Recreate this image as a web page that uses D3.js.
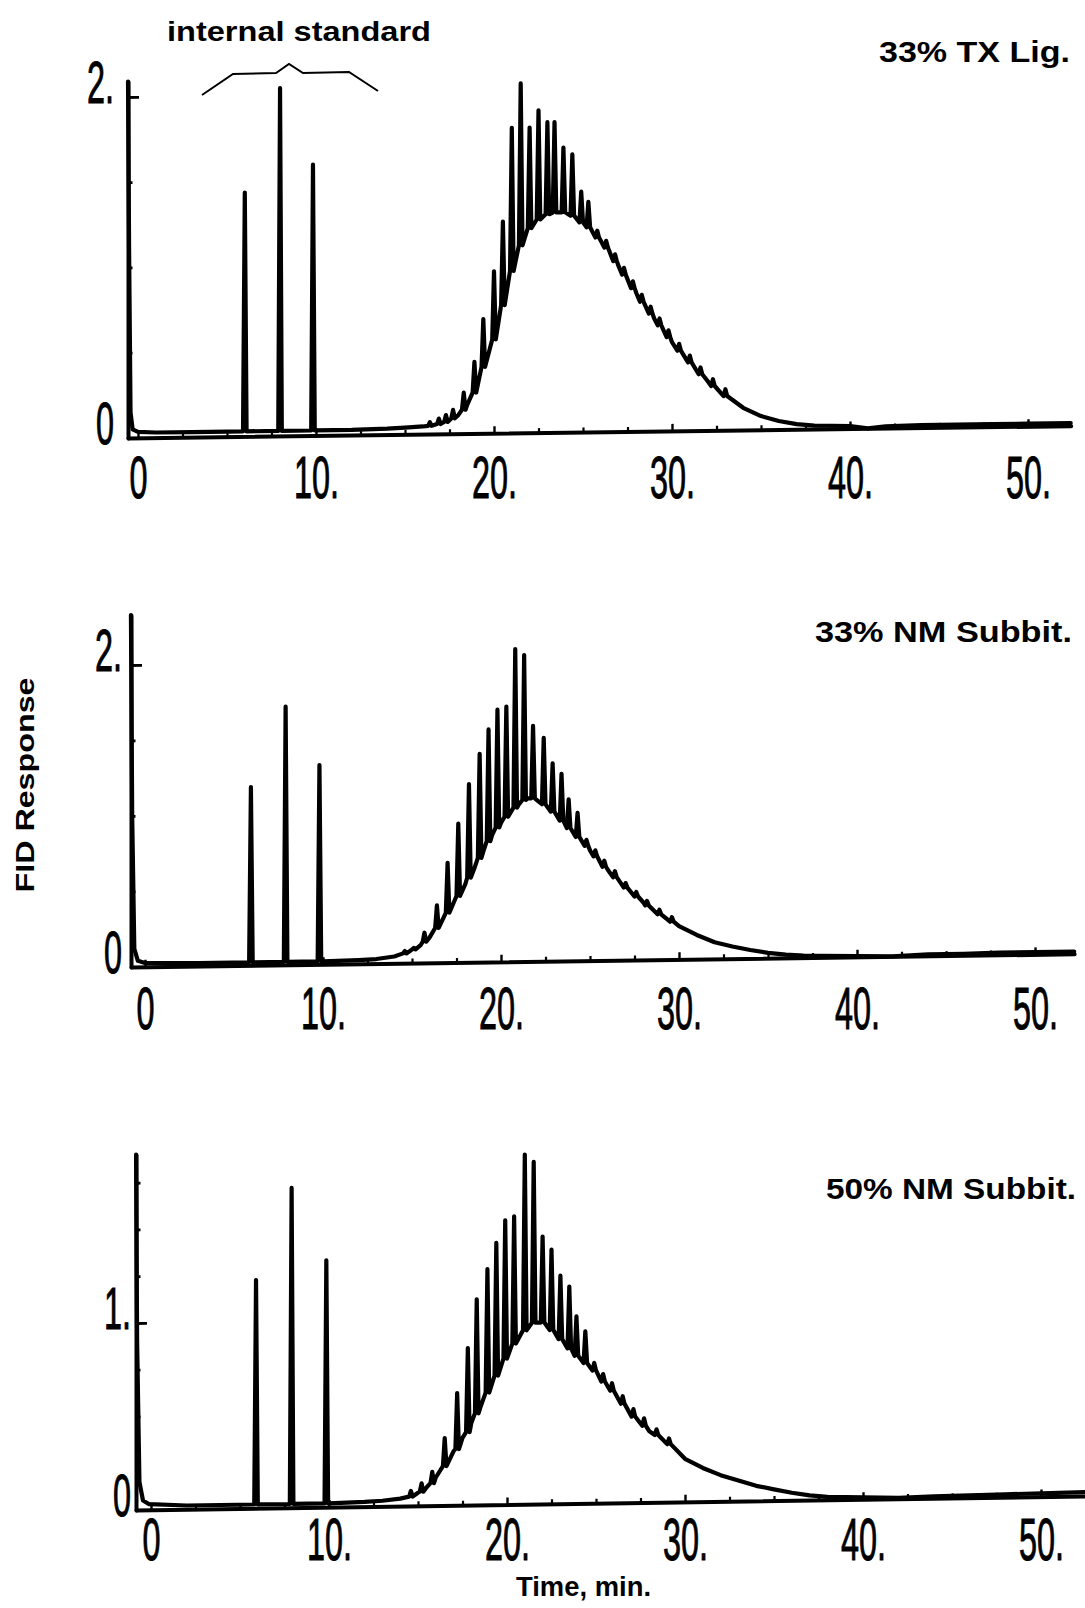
<!DOCTYPE html>
<html>
<head>
<meta charset="utf-8">
<script src="https://cdn.jsdelivr.net/npm/d3@7"></script>
<style>
  body { margin: 0; background: #fff; }
  svg { display: block; }
</style>
</head>
<body>
<div id="chart"></div>
<script>
// ---- data ----
const titles = ["33% TX Lig.", "33% NM Subbit.", "50% NM Subbit."]

// time axis (min)
const xTickValues = [0, 10, 20, 30, 40, 50]
const xTickLabels = ["0", "10.", "20.", "30.", "40.", "50."]
const xMinorTicks = [2.5, 5, 7.5, 12.5, 15, 17.5, 22.5, 25, 27.5, 32.5, 35, 37.5, 42.5, 45, 47.5]

// FID response ticks
const yTicks1 = [0, 2], yLabels1 = ["0", "2."], yMinor1 = [0.5, 1, 1.5]
const yTicks2 = [0, 2], yLabels2 = ["0", "2."], yMinor2 = [0.5, 1, 1.5]
const yTicks3 = [0, 1], yLabels3 = ["0", "1."], yMinor3 = [0.25, 0.5, 0.75, 1.25, 1.5, 1.75]

// panel 1: 33% TX Lig. -- smooth trace (solvent, baseline, hump)
const env1T = [-0.56, -0.5, -0.42, -0.3, 0, 1, 3, 5, 8, 10, 12, 14, 15, 16, 16.5, 17, 17.5, 18, 18.5, 19, 19.5, 20, 20.5, 21, 21.5, 22, 22.5, 23, 23.5, 24, 24.5, 25, 25.5, 26, 27, 28, 29, 30, 31, 32, 33, 34, 35, 36, 37, 38, 40, 41, 42, 44, 46, 48, 50, 52.4]
const env1V = [2.09, 1.1, 0.15, 0.05, 0.035, 0.03, 0.03, 0.03, 0.03, 0.03, 0.03, 0.035, 0.04, 0.045, 0.05, 0.06, 0.08, 0.11, 0.17, 0.27, 0.4, 0.55, 0.72, 0.9, 1.06, 1.18, 1.25, 1.29, 1.3, 1.29, 1.27, 1.23, 1.18, 1.12, 0.97, 0.81, 0.66, 0.52, 0.4, 0.29, 0.2, 0.13, 0.08, 0.05, 0.03, 0.02, 0.015, 0.0, 0.01, 0.015, 0.015, 0.015, 0.015, 0.015]
// spikes: retention time, top, level at foot
const pk1T    = [6.0, 7.98, 9.83, 16.4, 16.9, 17.3, 17.7, 18.3, 18.9, 19.4, 20.0, 20.5, 21.0, 21.5, 22.0, 22.5, 23.0, 23.4, 23.9, 24.4, 24.9, 25.3, 25.8, 26.3, 26.8, 27.3, 27.8, 28.3, 28.8, 29.3, 29.8, 30.4, 31.0, 31.6, 32.3, 33.0]
const pk1Top  = [1.43, 2.04, 1.59, 0.07, 0.09, 0.11, 0.14, 0.24, 0.42, 0.67, 0.95, 1.24, 1.79, 2.05, 1.79, 1.89, 1.82, 1.82, 1.67, 1.63, 1.41, 1.35, 1.18, 1.12, 1.04, 0.96, 0.88, 0.8, 0.73, 0.66, 0.59, 0.51, 0.44, 0.37, 0.3, 0.24]
const pk1Base = [0.03, 0.03, 0.03, 0.048, 0.058, 0.07, 0.09, 0.14, 0.24, 0.39, 0.55, 0.75, 0.95, 1.1, 1.2, 1.25, 1.28, 1.29, 1.29, 1.27, 1.23, 1.2, 1.14, 1.08, 1.0, 0.92, 0.84, 0.76, 0.69, 0.62, 0.55, 0.47, 0.4, 0.33, 0.26, 0.2]

// panel 2: 33% NM Subbit.
const env2T = [-0.79, -0.72, -0.6, -0.4, 0, 3, 6, 10, 12, 13, 14, 14.5, 15, 15.5, 16, 16.5, 17, 17.5, 18, 18.5, 19, 19.5, 20, 20.5, 21, 21.5, 22, 22.5, 23, 23.5, 24, 24.5, 25, 26, 27, 28, 29, 30, 31, 32, 33, 34, 35, 36, 37, 38, 40, 42, 44, 46, 48, 50, 52.2]
const env2V = [2.33, 1.0, 0.12, 0.04, 0.025, 0.02, 0.02, 0.02, 0.025, 0.03, 0.045, 0.06, 0.08, 0.12, 0.17, 0.25, 0.33, 0.42, 0.52, 0.62, 0.73, 0.84, 0.92, 0.98, 1.04, 1.08, 1.07, 1.03, 0.98, 0.92, 0.86, 0.8, 0.73, 0.6, 0.48, 0.38, 0.29, 0.22, 0.16, 0.11, 0.08, 0.055, 0.035, 0.022, 0.014, 0.01, 0.005, 0.0, 0.01, 0.01, 0.015, 0.015, 0.015]
const pk2T    = [5.95, 7.9, 9.8, 14.6, 15.1, 15.7, 16.4, 17.0, 17.6, 18.2, 18.8, 19.3, 19.8, 20.3, 20.8, 21.3, 21.8, 22.4, 22.9, 23.4, 23.8, 24.3, 24.8, 25.3, 25.8, 26.4, 27.0, 27.6, 28.2, 28.9, 29.6]
const pk2Top  = [1.18, 1.71, 1.32, 0.08, 0.1, 0.2, 0.38, 0.66, 0.92, 1.18, 1.38, 1.54, 1.67, 1.69, 2.07, 2.03, 1.56, 1.48, 1.31, 1.24, 1.07, 0.98, 0.8, 0.73, 0.66, 0.59, 0.51, 0.45, 0.39, 0.33, 0.28]
const pk2Base = [0.02, 0.02, 0.02, 0.065, 0.09, 0.14, 0.23, 0.33, 0.44, 0.56, 0.69, 0.8, 0.89, 0.96, 1.02, 1.07, 1.08, 1.04, 0.99, 0.93, 0.88, 0.82, 0.76, 0.69, 0.62, 0.55, 0.48, 0.42, 0.36, 0.3, 0.25]

// panel 3: 50% NM Subbit.
const env3T = [-0.84, -0.78, -0.65, -0.45, -0.1, 2, 6, 10, 12, 13, 14, 14.5, 15, 15.5, 16, 16.5, 17, 17.5, 18, 18.5, 19, 19.5, 20, 20.5, 21, 21.5, 22, 22.5, 23, 23.5, 24, 24.5, 25, 26, 27, 28, 29, 30, 31, 32, 33, 34, 35, 36, 37, 38, 40, 42, 44, 48, 52, 53.5]
const env3V = [1.9, 0.9, 0.15, 0.05, 0.03, 0.02, 0.02, 0.02, 0.025, 0.03, 0.04, 0.05, 0.07, 0.1, 0.15, 0.21, 0.29, 0.36, 0.44, 0.52, 0.61, 0.7, 0.8, 0.87, 0.93, 0.97, 0.97, 0.93, 0.88, 0.83, 0.78, 0.74, 0.7, 0.59, 0.47, 0.38, 0.3, 0.23, 0.18, 0.14, 0.11, 0.08, 0.06, 0.04, 0.025, 0.015, 0.01, 0.005, 0.01, 0.015, 0.02, 0.02]
const pk3T    = [5.9, 7.9, 9.85, 14.6, 15.2, 15.8, 16.5, 17.2, 17.8, 18.3, 18.9, 19.4, 19.9, 20.4, 21.0, 21.5, 22.0, 22.5, 23.0, 23.5, 23.9, 24.4, 24.9, 25.4, 25.9, 26.5, 27.1, 27.7, 28.4, 29.1]
const pk3Top  = [1.22, 1.71, 1.32, 0.08, 0.12, 0.18, 0.36, 0.6, 0.84, 1.1, 1.26, 1.4, 1.52, 1.54, 1.87, 1.83, 1.43, 1.36, 1.22, 1.16, 1.0, 0.92, 0.75, 0.69, 0.64, 0.57, 0.5, 0.45, 0.39, 0.34]
const pk3Base = [0.02, 0.02, 0.02, 0.05, 0.075, 0.12, 0.21, 0.3, 0.39, 0.49, 0.6, 0.69, 0.78, 0.86, 0.93, 0.97, 0.97, 0.93, 0.88, 0.83, 0.79, 0.75, 0.71, 0.65, 0.6, 0.53, 0.46, 0.41, 0.36, 0.31]

// ---- layout (pixels) ----
const W = 1085, H = 1608
const pxPerMin = 17.8
const layout = [
  {left: 128, x0: 138, y0: 438, k: 170.5, vTop: 2.09, tEnd: 52.4, skew: -0.75, yPad: 14, xLabY: 60, titleR: 1070, titleY: 62, titleLen: 191},
  {left: 131, x0: 145, y0: 967, k: 151, vTop: 2.33, tEnd: 52.2, skew: -0.8, yPad: 9, xLabY: 62, titleR: 1072, titleY: 642, titleLen: 257},
  {left: 136, x0: 151, y0: 1510, k: 187, vTop: 1.9, tEnd: 53.5, skew: -0.85, yPad: 5, xLabY: 50, titleR: 1076, titleY: 1199, titleLen: 250}
]
const bracePts = [[202, 95], [233, 74], [276, 73], [289, 64], [303, 73], [349, 72], [378, 91]]
const tickFont = "'Liberation Sans', Arial, sans-serif"
const labelFont = "'Liberation Sans', Arial, Helvetica, sans-serif"
const squeeze = 0.54

const panels = [
  {envT: env1T, envV: env1V, pkT: pk1T, pkTop: pk1Top, pkBase: pk1Base, yTicks: yTicks1, yLabels: yLabels1, yMinor: yMinor1},
  {envT: env2T, envV: env2V, pkT: pk2T, pkTop: pk2Top, pkBase: pk2Base, yTicks: yTicks2, yLabels: yLabels2, yMinor: yMinor2},
  {envT: env3T, envV: env3V, pkT: pk3T, pkTop: pk3Top, pkBase: pk3Base, yTicks: yTicks3, yLabels: yLabels3, yMinor: yMinor3}
]

const svg = d3.select("#chart").append("svg")
  .attr("width", W)
  .attr("height", H)
  .style("background", "#fff")

// merge smooth trace and narrow spikes into one pen line
function tracePoints(p) {
  const hw = 0.1
  const pts = p.envT.map((t, i) => [t, p.envV[i]])
    .filter(d => !p.pkT.some(t => Math.abs(t - d[0]) < hw * 1.5))
  p.pkT.forEach((t, i) => {
    pts.push([t - hw, p.pkBase[i]], [t, p.pkTop[i]], [t + hw, p.pkBase[i]])
  })
  return pts.sort((a, b) => a[0] - b[0])
}

panels.forEach((p, i) => {
  const L = layout[i]
  const x = d3.scaleLinear().domain([0, 50]).range([L.x0, L.x0 + 50 * pxPerMin])
  const y = d3.scaleLinear().domain([0, 1]).range([L.y0, L.y0 - L.k])
  const xa = x.copy().domain([x.invert(L.left), L.tEnd]).range([L.left, x(L.tEnd)])
  const ya = y.copy().domain([0, L.vTop]).range([L.y0, y(L.vTop)])

  const g = svg.append("g")
  // the scanned page is slightly tilted: baseline rises to the right
  const tilt = g.append("g")
    .attr("transform", `translate(${L.left},${L.y0}) skewY(${L.skew}) translate(${-L.left},${-L.y0})`)

  // x axis line + small upward ticks
  const xMajor = tilt.append("g")
    .attr("transform", `translate(0,${L.y0})`)
    .call(d3.axisBottom(xa).tickValues(xTickValues).tickSizeInner(-7).tickSizeOuter(0).tickFormat(""))
  xMajor.select(".domain").attr("stroke-width", 4).attr("stroke-linecap", "round")
  xMajor.selectAll(".tick line").attr("stroke-width", 2.4)
  const xMin = tilt.append("g")
    .attr("transform", `translate(0,${L.y0})`)
    .call(d3.axisBottom(xa).tickValues(xMinorTicks).tickSizeInner(-4.5).tickSizeOuter(0).tickFormat(""))
  xMin.select(".domain").remove()
  xMin.selectAll(".tick line").attr("stroke-width", 2.2)

  // y axis line + inward ticks
  const yMaj = tilt.append("g")
    .attr("transform", `translate(${L.left},0)`)
    .call(d3.axisLeft(ya).tickValues(p.yTicks.filter(v => v > 0)).tickSizeInner(-11).tickSizeOuter(0).tickFormat(""))
  yMaj.select(".domain").attr("stroke-width", 4).attr("stroke-linecap", "round")
  yMaj.selectAll(".tick line").attr("stroke-width", 2.8)
  const yMin = tilt.append("g")
    .attr("transform", `translate(${L.left},0)`)
    .call(d3.axisLeft(ya).tickValues(p.yMinor).tickSizeInner(-4.5).tickSizeOuter(0).tickFormat(""))
  yMin.select(".domain").remove()
  yMin.selectAll(".tick line").attr("stroke-width", 2.8)

  // chromatogram trace
  const line = d3.line().x(d => x(d[0])).y(d => y(d[1]))
  tilt.append("path")
    .datum(tracePoints(p))
    .attr("d", line)
    .attr("fill", "none")
    .attr("stroke", "#000")
    .attr("stroke-width", 4.2)
    .attr("stroke-linejoin", "round")
    .attr("stroke-linecap", "round")

  // tick labels (tall condensed plotter digits), not tilted
  const xl = g.append("g")
    .attr("transform", `translate(0,${L.y0})`)
    .call(d3.axisBottom(x).tickValues(xTickValues).tickSize(0).tickFormat((d, j) => xTickLabels[j]))
  xl.select(".domain").remove()
  xl.selectAll("text")
    .attr("y", L.xLabY).attr("dy", 0)
    .attr("font-family", tickFont).attr("font-size", 60)
    .attr("stroke", "#000").attr("stroke-width", 1)
    .attr("transform", `scale(${squeeze},1)`)

  const yl = g.append("g")
    .attr("transform", `translate(${L.left},0)`)
    .call(d3.axisLeft(y).tickValues(p.yTicks).tickSize(0).tickFormat((d, j) => p.yLabels[j]))
  yl.select(".domain").remove()
  yl.selectAll("text")
    .attr("x", -L.yPad / squeeze).attr("dy", 0).attr("y", 5)
    .attr("font-family", tickFont).attr("font-size", 60)
    .attr("stroke", "#000").attr("stroke-width", 1)
    .attr("transform", `scale(${squeeze},1)`)

  // sample title
  g.append("text")
    .attr("x", L.titleR - L.titleLen)
    .attr("y", L.titleY)
    .attr("textLength", L.titleLen)
    .attr("lengthAdjust", "spacingAndGlyphs")
    .attr("font-family", labelFont)
    .attr("font-weight", "bold")
    .attr("font-size", 30)
    .text(titles[i])
})

// internal standard note with brace
svg.append("text")
  .attr("x", 167).attr("y", 41)
  .attr("textLength", 264).attr("lengthAdjust", "spacingAndGlyphs")
  .attr("font-family", labelFont).attr("font-weight", "bold").attr("font-size", 27)
  .text("internal standard")
svg.append("path")
  .attr("d", d3.line()(bracePts))
  .attr("fill", "none").attr("stroke", "#000").attr("stroke-width", 2)

// axis titles
svg.append("text")
  .attr("transform", "translate(34,785) rotate(-90)")
  .attr("text-anchor", "middle")
  .attr("textLength", 215).attr("lengthAdjust", "spacingAndGlyphs")
  .attr("font-family", labelFont).attr("font-weight", "bold").attr("font-size", 26)
  .text("FID Response")
svg.append("text")
  .attr("x", 516).attr("y", 1596)
  .attr("textLength", 135).attr("lengthAdjust", "spacingAndGlyphs")
  .attr("font-family", labelFont).attr("font-weight", "bold").attr("font-size", 27)
  .text("Time, min.")
</script>
</body>
</html>
